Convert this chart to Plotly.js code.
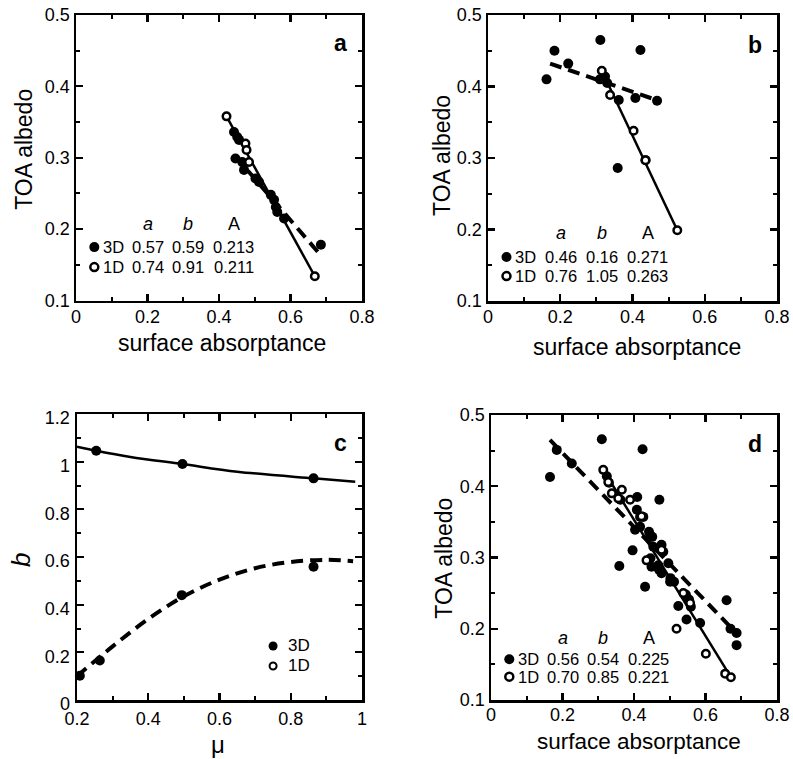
<!DOCTYPE html>
<html>
<head>
<meta charset="utf-8">
<script src="https://cdn.plot.ly/plotly-3.0.1.min.js"></script>
<style>html,body{margin:0;padding:0;background:#fff;}#chart{width:793px;height:759px;}</style>
</head>
<body>
<div id="chart"></div>
<script>
// ---------- DATA ----------
// Panel a
const a3dX = [0.442, 0.451, 0.456, 0.446, 0.465, 0.470, 0.502, 0.512, 0.545, 0.554, 0.559, 0.563, 0.582, 0.685];
const a3dY = [0.336, 0.329, 0.325, 0.299, 0.294, 0.283, 0.271, 0.266, 0.248, 0.241, 0.231, 0.224, 0.215, 0.178];
const a1dX = [0.421, 0.474, 0.477, 0.484, 0.668];
const a1dY = [0.358, 0.320, 0.311, 0.294, 0.134];
const aFit1dX = [0.421, 0.668];
const aFit1dY = [0.358, 0.134];
const aFit3dX = [0.446, 0.680];
const aFit3dY = [0.302, 0.166];
const aParams3D = [0.57, 0.59, 0.213];
const aParams1D = [0.74, 0.91, 0.211];

// Panel b
const b3dX = [0.162, 0.184, 0.222, 0.311, 0.422, 0.310, 0.324, 0.330, 0.362, 0.408, 0.468, 0.359, 0.436];
const b3dY = [0.410, 0.450, 0.432, 0.465, 0.451, 0.410, 0.414, 0.405, 0.381, 0.384, 0.380, 0.286, 0.297];
const b1dX = [0.315, 0.338, 0.403, 0.436, 0.524];
const b1dY = [0.422, 0.388, 0.338, 0.297, 0.199];
const bFit1dX = [0.315, 0.524];
const bFit1dY = [0.422, 0.199];
const bFit3dX = [0.172, 0.473];
const bFit3dY = [0.432, 0.380];
const bParams3D = [0.46, 0.16, 0.271];
const bParams1D = [0.76, 1.05, 0.263];

// Panel c
const c1dMu = [0.254, 0.496, 0.864];
const c1dB  = [1.046, 0.990, 0.930];
const c3dMu = [0.208, 0.264, 0.494, 0.864];
const c3dB  = [0.102, 0.166, 0.440, 0.559];
const cFit1dMu = [0.200, 0.254, 0.350, 0.496, 0.650, 0.864, 0.981];
const cFit1dB  = [1.063, 1.046, 1.020, 0.990, 0.958, 0.930, 0.916];
const cFit3dMu = [0.200, 0.300, 0.400, 0.500, 0.600, 0.700, 0.800, 0.900, 0.975];
const cFit3dB  = [0.100, 0.225, 0.340, 0.435, 0.505, 0.553, 0.579, 0.588, 0.582];

// Panel d
const d3dX = [0.165, 0.184, 0.226, 0.310, 0.424, 0.471, 0.409, 0.396, 0.359, 0.431, 0.659, 0.524,
              0.408, 0.417, 0.426, 0.403, 0.417, 0.445, 0.454, 0.477, 0.482, 0.468, 0.449, 0.477, 0.501, 0.496,
              0.442, 0.451, 0.446, 0.470, 0.502, 0.512, 0.545, 0.554, 0.559, 0.547, 0.585, 0.687, 0.687, 0.670,
              0.324, 0.330, 0.362];
const d3dY = [0.413, 0.451, 0.432, 0.466, 0.452, 0.381, 0.385, 0.310, 0.288, 0.259, 0.240, 0.232,
              0.367, 0.357, 0.357, 0.339, 0.343, 0.329, 0.315, 0.318, 0.308, 0.289, 0.287, 0.278, 0.266, 0.292,
              0.336, 0.329, 0.299, 0.283, 0.271, 0.266, 0.248, 0.241, 0.231, 0.213, 0.208, 0.194, 0.177, 0.200,
              0.414, 0.405, 0.381];
const d1dX = [0.314, 0.328, 0.338, 0.356, 0.366, 0.389, 0.435, 0.538, 0.557, 0.519, 0.601, 0.655, 0.671, 0.421, 0.477];
const d1dY = [0.423, 0.406, 0.390, 0.383, 0.395, 0.381, 0.296, 0.250, 0.236, 0.200, 0.165, 0.137, 0.132, 0.358, 0.311];
const dFit1dX = [0.314, 0.671];
const dFit1dY = [0.423, 0.132];
const dFit3dX = [0.165, 0.692];
const dFit3dY = [0.465, 0.191];
const dParams3D = [0.56, 0.54, 0.225];
const dParams1D = [0.70, 0.85, 0.221];

const paramHeaders = ['<i>a</i>', '<i>b</i>', 'A'];
const seriesNames = ['3D', '1D'];

// ---------- STYLE ----------
const FONT = 'Liberation Sans, Arial, Helvetica, sans-serif';
const BLACK = '#000';
const W = 793, H = 759;

function pxDomX(l, r) { return [l / W, r / W]; }
function pxDomY(t, b) { return [1 - b / H, 1 - t / H]; }

function axis(domain, range, dtick, minorDtick, anchor, standoff, shift) {
  return {
    domain: domain, range: range, anchor: anchor,
    dtick: dtick, tick0: 0, ticks: 'inside', ticklen: 7, tickwidth: 2.2, tickcolor: BLACK,
    minor: {dtick: minorDtick, tick0: 0, ticks: 'inside', ticklen: 4, tickwidth: 2, tickcolor: BLACK},
    showline: true, linewidth: 2.5, linecolor: BLACK, mirror: 'ticks',
    showgrid: false, zeroline: false, automargin: false,
    ticklabelstandoff: standoff || 0,
    ticklabelshift: shift || 0,
    tickfont: {family: FONT, size: 18, color: BLACK},
    fixedrange: true
  };
}

const filledMarker = {color: BLACK, size: 10};
const openMarker = {color: '#fff', size: 7.5, line: {color: BLACK, width: 2.5}};
const solidLine = {color: BLACK, width: 2.5};
const dashLine = {color: BLACK, width: 4, dash: '12px,7px'};

function lineTrace(x, y, line, xa, ya, shape) {
  return {x: x, y: y, mode: 'lines', line: Object.assign({shape: shape || 'linear'}, line), xaxis: xa, yaxis: ya, hoverinfo: 'skip', showlegend: false, cliponaxis: true};
}
function ptTrace(x, y, marker, xa, ya) {
  return {x: x, y: y, mode: 'markers', marker: marker, xaxis: xa, yaxis: ya, showlegend: false, cliponaxis: false};
}

const traces = [
  lineTrace(aFit3dX, aFit3dY, dashLine, 'x', 'y'),
  lineTrace(aFit1dX, aFit1dY, solidLine, 'x', 'y'),
  ptTrace(a3dX, a3dY, filledMarker, 'x', 'y'),
  ptTrace(a1dX, a1dY, openMarker, 'x', 'y'),

  lineTrace(bFit3dX, bFit3dY, dashLine, 'x2', 'y2'),
  lineTrace(bFit1dX, bFit1dY, solidLine, 'x2', 'y2'),
  ptTrace(b3dX, b3dY, filledMarker, 'x2', 'y2'),
  ptTrace(b1dX, b1dY, openMarker, 'x2', 'y2'),

  lineTrace(cFit3dMu, cFit3dB, dashLine, 'x3', 'y3', 'spline'),
  lineTrace(cFit1dMu, cFit1dB, solidLine, 'x3', 'y3', 'spline'),
  ptTrace(c3dMu, c3dB, filledMarker, 'x3', 'y3'),
  ptTrace(c1dMu, c1dB, filledMarker, 'x3', 'y3'),

  lineTrace(dFit3dX, dFit3dY, dashLine, 'x4', 'y4'),
  lineTrace(dFit1dX, dFit1dY, solidLine, 'x4', 'y4'),
  ptTrace(d3dX, d3dY, filledMarker, 'x4', 'y4'),
  ptTrace(d1dX, d1dY, openMarker, 'x4', 'y4')
];

const annotations = [];
const shapes = [];

function txt(xref, yref, x, y, text, size, opts) {
  annotations.push(Object.assign({
    xref: xref, yref: yref, x: x, y: y, text: text, showarrow: false,
    xanchor: 'center', yanchor: 'middle',
    font: {family: FONT, size: size, color: BLACK}
  }, opts || {}));
}
function dot(xref, yref, x, y, r, open, lw) {
  shapes.push({
    type: 'circle', xref: xref, yref: yref, xsizemode: 'pixel', ysizemode: 'pixel',
    xanchor: x, yanchor: y, x0: -r, x1: r, y0: -r, y1: r,
    fillcolor: open ? '#fff' : BLACK, line: {color: BLACK, width: open ? lw : 0}
  });
}

// table of fit parameters
const colX = [0.253, 0.393, 0.552];
function table(ax, ay, p3, p1, yh, y1, y2) {
  const xr = ax + ' domain', yr = ay + ' domain';
  paramHeaders.forEach((h, i) => txt(xr, yr, colX[i], yh, h, 18));
  [[p3, y1, false], [p1, y2, true]].forEach(([p, yy, open], k) => {
    dot(xr, yr, 0.064, yy, open ? 4 : 5, open, 2.5);
    txt(xr, yr, 0.087, yy, seriesNames[k], 16.5, {xanchor: 'left'});
    p.forEach((v, i) => txt(xr, yr, colX[i], yy, v.toFixed(i === 2 ? 3 : 2), 16.5));
  });
}
table('x', 'y', aParams3D, aParams1D, 0.268, 0.187, 0.117);
table('x2', 'y2', bParams3D, bParams1D, 0.238, 0.154, 0.087);
table('x4', 'y4', dParams3D, dParams1D, 0.216, 0.143, 0.082);

// panel c legend
dot('x3 domain', 'y3 domain', 0.688, 0.189, 4.5, false, 0);
dot('x3 domain', 'y3 domain', 0.688, 0.119, 3.5, true, 2);
txt('x3 domain', 'y3 domain', 0.735, 0.189, seriesNames[0], 17, {xanchor: 'left'});
txt('x3 domain', 'y3 domain', 0.735, 0.119, seriesNames[1], 17, {xanchor: 'left'});

// panel letters
const letterOpts = {xanchor: 'right', font: {family: FONT, size: 23, color: BLACK, weight: 'bold'}};
txt('x domain', 'y domain', 0.955, 0.902, '<b>a</b>', 23, letterOpts);
txt('x2 domain', 'y2 domain', 0.955, 0.895, '<b>b</b>', 23, letterOpts);
txt('x3 domain', 'y3 domain', 0.955, 0.899, '<b>c</b>', 23, letterOpts);
txt('x4 domain', 'y4 domain', 0.955, 0.898, '<b>d</b>', 23, letterOpts);

// axis titles
const xTitle = 'surface absorptance', yTitle = 'TOA albedo';
txt('x domain', 'y domain', 0.509, -0.149, xTitle, 23);
txt('x domain', 'y domain', -0.182, 0.531, yTitle, 23, {textangle: -90});
txt('x2 domain', 'y2 domain', 0.516, -0.160, xTitle, 23);
txt('x2 domain', 'y2 domain', -0.160, 0.510, yTitle, 23, {textangle: -90});
txt('x3 domain', 'y3 domain', 0.496, -0.155, 'μ', 24);
txt('x3 domain', 'y3 domain', -0.196, 0.490, '<i>b</i>', 26, {textangle: -90});
txt('x4 domain', 'y4 domain', 0.516, -0.146, xTitle, 22.5);
txt('x4 domain', 'y4 domain', -0.163, 0.497, yTitle, 23, {textangle: -90});

const layout = {
  width: W, height: H,
  margin: {l: 0, r: 0, t: 0, b: 0},
  paper_bgcolor: '#fff', plot_bgcolor: '#fff',
  showlegend: false,
  font: {family: FONT, color: BLACK},
  xaxis:  axis(pxDomX(76, 362), [0, 0.8], 0.2, 0.1, 'y', -2),
  yaxis:  axis(pxDomY(15, 300.5), [0.1, 0.5], 0.1, 0.05, 'x'),
  xaxis2: axis(pxDomX(488, 777), [0, 0.8], 0.2, 0.1, 'y2', -2),
  yaxis2: axis(pxDomY(15, 301), [0.1, 0.5], 0.1, 0.05, 'x2'),
  xaxis3: axis(pxDomX(77, 362), [0.2, 1], 0.2, 0.1, 'y3', 1),
  yaxis3: axis(pxDomY(414, 700), [0, 1.2], 0.2, 0.1, 'x3', 1, 4),
  xaxis4: axis(pxDomX(491, 777), [0, 0.8], 0.2, 0.1, 'y4', -3),
  yaxis4: axis(pxDomY(415, 700), [0.1, 0.5], 0.1, 0.05, 'x4'),
  annotations: annotations,
  shapes: shapes
};

Plotly.newPlot('chart', traces, layout, {staticPlot: true, displayModeBar: false});
</script>
</body>
</html>
